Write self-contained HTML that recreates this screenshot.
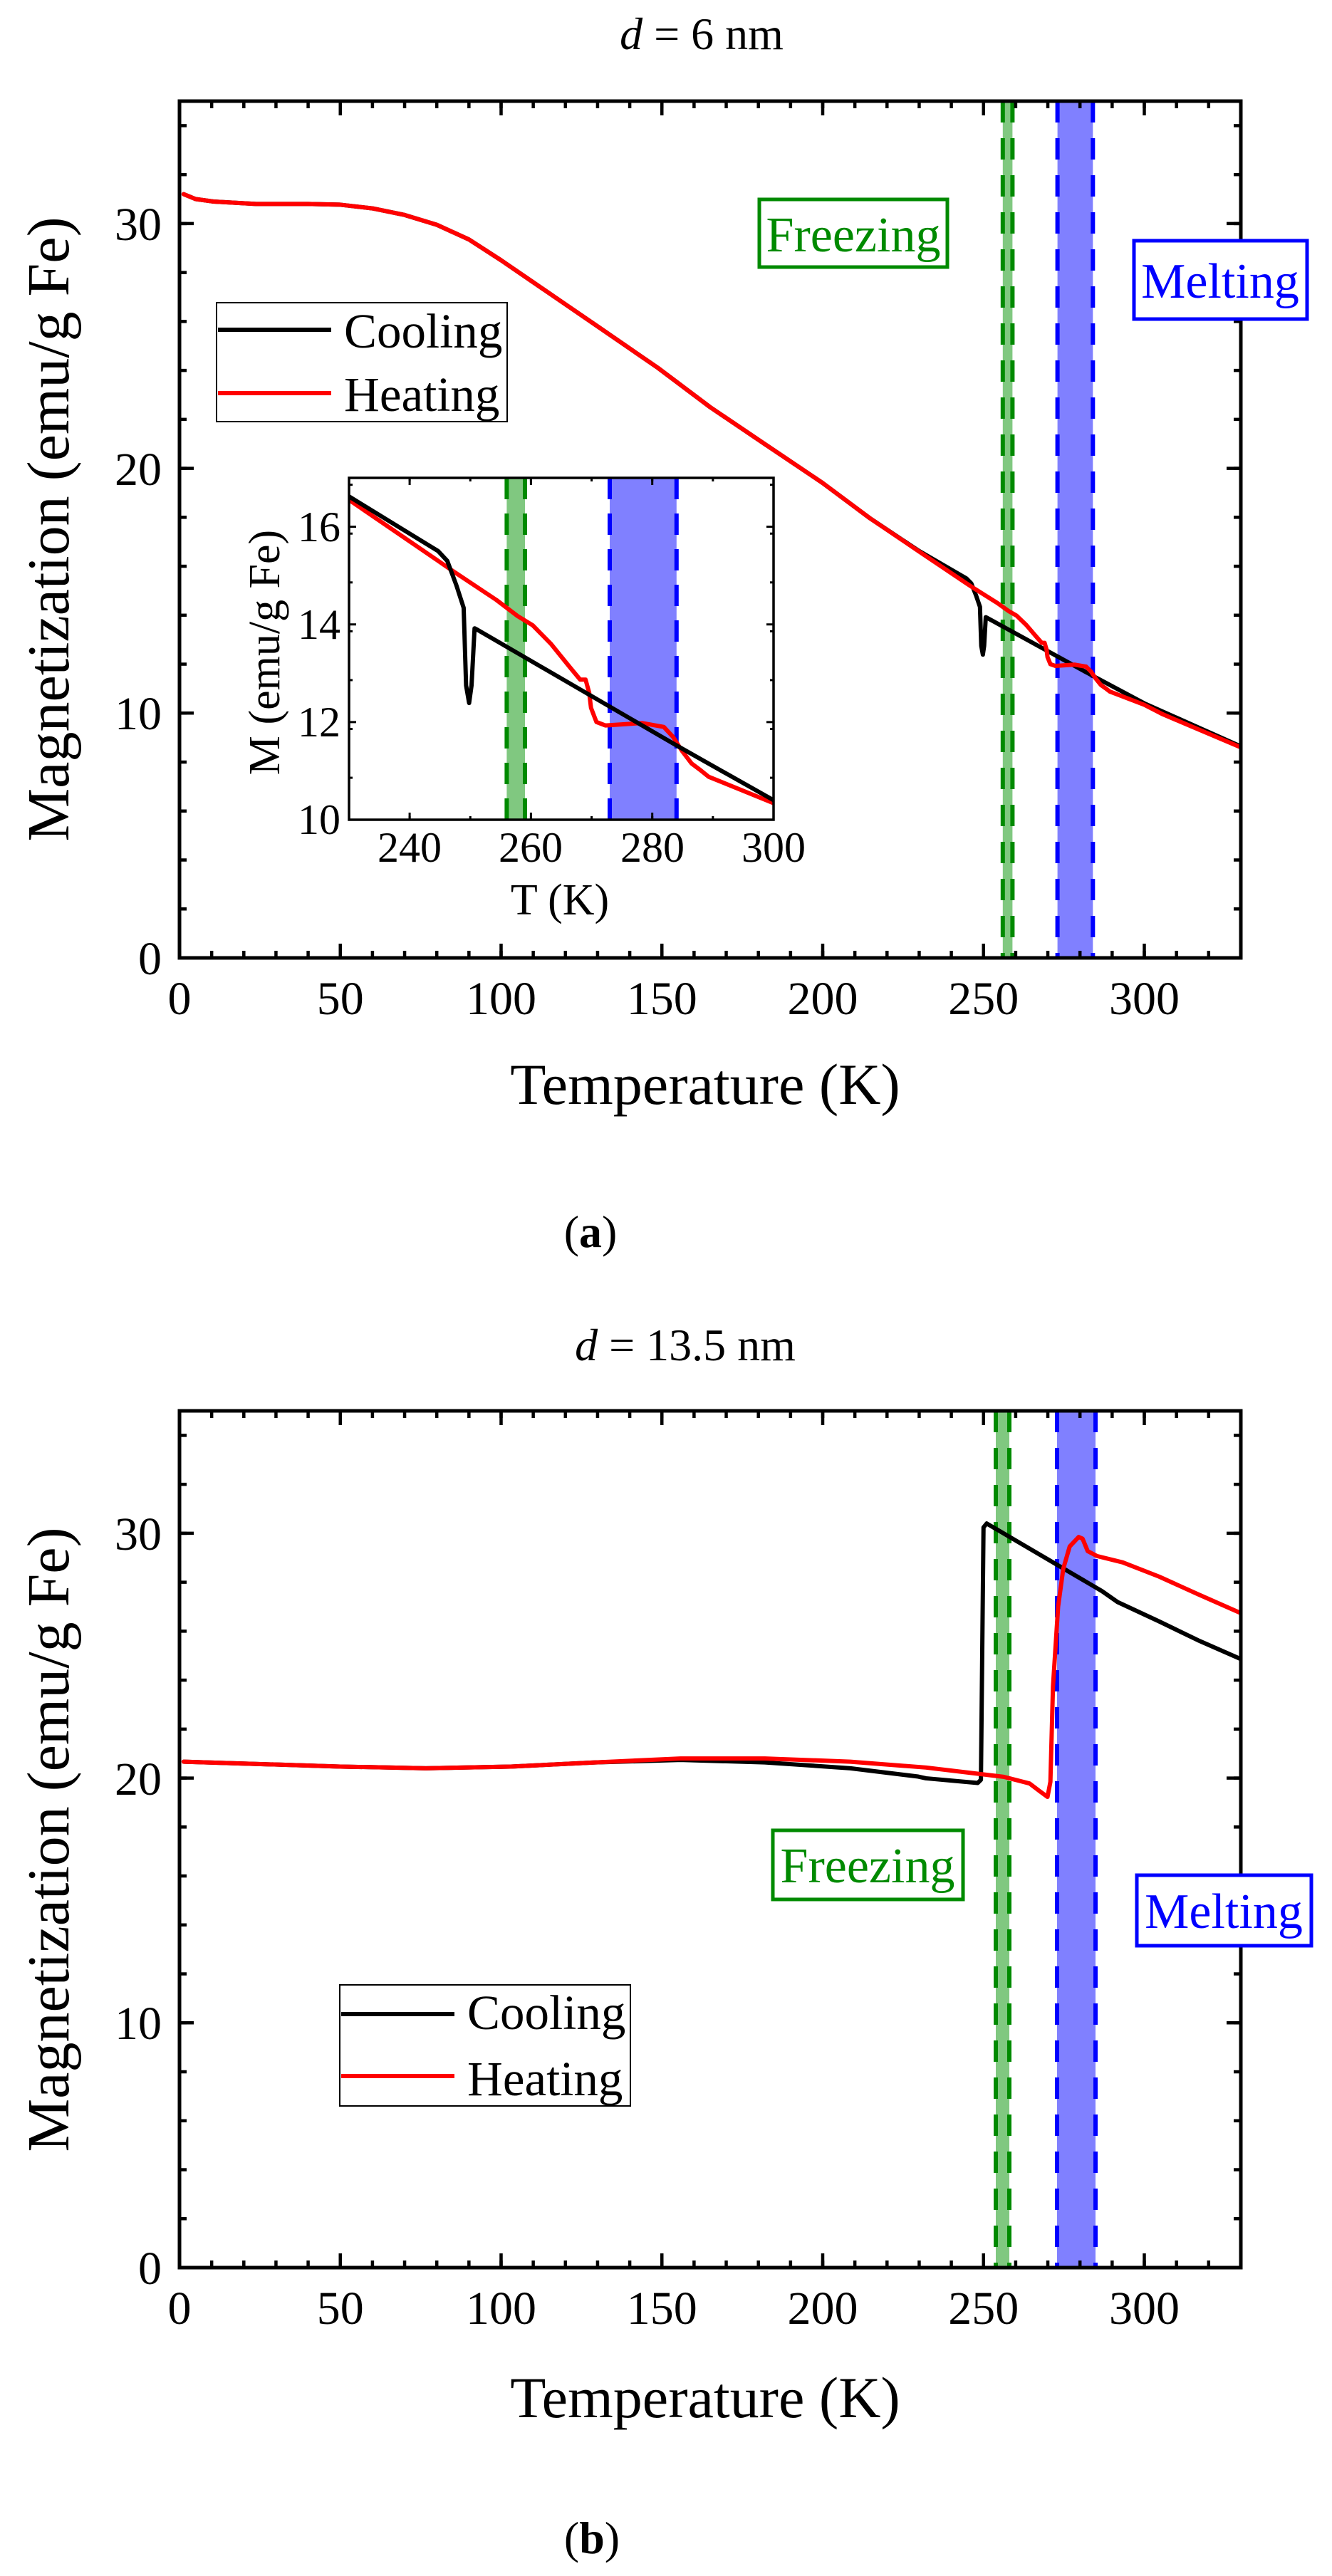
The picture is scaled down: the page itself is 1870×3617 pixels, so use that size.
<!DOCTYPE html>
<html><head><meta charset="utf-8"><style>
html,body{margin:0;padding:0;background:#fff;}
svg{display:block;}
text{font-family:"Liberation Serif",serif;fill:#000;}
</style></head><body>
<svg width="1870" height="3617" viewBox="0 0 1870 3617" xmlns="http://www.w3.org/2000/svg">
<defs>
<pattern id="mx" x="249.75" y="0" patternUnits="userSpaceOnUse" width="45.15" height="4000"><rect width="4.5" height="4000" fill="#000"/></pattern>
<pattern id="mya" x="0" y="36.69" patternUnits="userSpaceOnUse" width="4000" height="68.74"><rect width="4000" height="4.5" fill="#000"/></pattern>
<pattern id="myb" x="0" y="19.71" patternUnits="userSpaceOnUse" width="4000" height="68.74"><rect width="4000" height="4.5" fill="#000"/></pattern>
<pattern id="ix" x="488.5" y="0" patternUnits="userSpaceOnUse" width="85.14" height="4000"><rect width="3" height="4000" fill="#000"/></pattern>
<pattern id="iy" x="0" y="-6.54" patternUnits="userSpaceOnUse" width="4000" height="68.57"><rect width="4000" height="3" fill="#000"/></pattern>
<clipPath id="ca"><rect x="252" y="142" width="1490" height="1203"/></clipPath>
<clipPath id="cb"><rect x="252" y="1981" width="1490" height="1203"/></clipPath>
<clipPath id="ci"><rect x="490" y="671" width="596" height="480"/></clipPath>
</defs>

<!-- ================= PANEL A ================= -->
<text x="985" y="69" font-size="64" text-anchor="middle"><tspan font-style="italic">d</tspan> = 6 nm</text>
<g clip-path="url(#ca)">
<rect x="1407.8" y="142" width="13.6" height="1203" fill="#80c880"/>
<rect x="1484.6" y="142" width="49.7" height="1203" fill="#8080ff"/>
<g stroke-width="6" stroke-dasharray="30 22" fill="none">
<line x1="1407.8" y1="142" x2="1407.8" y2="1345" stroke="#008a00"/>
<line x1="1421.4" y1="142" x2="1421.4" y2="1345" stroke="#008a00"/>
<line x1="1484.6" y1="142" x2="1484.6" y2="1345" stroke="#0000ff"/>
<line x1="1534.3" y1="142" x2="1534.3" y2="1345" stroke="#0000ff"/>
</g>
<g transform="translate(252,1345) scale(4.515,-34.37)" fill="none" stroke-linejoin="round" stroke-linecap="round">
<polyline vector-effect="non-scaling-stroke" stroke="#000" stroke-width="6" points="1.3,31.2 5,31.0 10.6,30.9 23.8,30.8 40,30.8 50,30.77 60,30.62 70,30.35 80,29.95 90,29.35 100,28.5 110,27.6 120,26.7 130,25.8 148.8,24.1 165,22.5 181.9,21.0 200,19.4 214.8,17.95 230,16.62 244.7,15.5 246.2,15.3 247.7,14.8 248.9,14.34 249.3,12.75 249.8,12.39 250.2,12.75 250.7,13.92 251.3,13.88 284.3,11.5 300,10.4 330,8.64"/>
<polyline vector-effect="non-scaling-stroke" stroke="#ff0000" stroke-width="6" points="1.3,31.2 5,31.0 10.6,30.9 23.8,30.8 40,30.8 50,30.77 60,30.62 70,30.35 80,29.95 90,29.35 100,28.5 110,27.6 120,26.7 130,25.8 148.8,24.1 165,22.5 181.9,21.0 200,19.4 214.8,17.95 230,16.6 244.7,15.3 246.8,15.12 254.3,14.5 257.8,14.17 260.3,13.98 263.3,13.6 266.3,13.14 268.1,12.87 269,12.87 269.6,12.6 269.9,12.29 270.8,12.0 272.3,11.93 278.3,11.98 281.9,11.9 283.4,11.7 284.9,11.41 286.5,11.15 287.9,11.02 289.3,10.88 300,10.34 305.8,9.95 330,8.6"/>
</g>
</g>
<!-- ticks a -->
<rect x="254" y="1335" width="1486" height="10" fill="url(#mx)"/>
<rect x="254" y="142" width="1486" height="10" fill="url(#mx)"/>
<rect x="252" y="144" width="10" height="1199" fill="url(#mya)"/>
<rect x="1732" y="144" width="10" height="1199" fill="url(#mya)"/>
<g stroke="#000" stroke-width="4.5">
<path d="M477.75 1345v-20M703.5 1345v-20M929.25 1345v-20M1155 1345v-20M1380.75 1345v-20M1606.5 1345v-20M477.75 142v20M703.5 142v20M929.25 142v20M1155 142v20M1380.75 142v20M1606.5 142v20M252 1001.3h20M252 657.6h20M252 313.9h20M1742 1001.3h-20M1742 657.6h-20M1742 313.9h-20"/>
</g>
<rect x="252" y="142" width="1490" height="1203" fill="none" stroke="#000" stroke-width="5"/>
<g font-size="66" text-anchor="end">
<text x="227" y="1368">0</text><text x="227" y="1024">10</text><text x="227" y="681">20</text><text x="227" y="337">30</text>
</g>
<g font-size="66" text-anchor="middle">
<text x="252" y="1424">0</text><text x="477.75" y="1424">50</text><text x="703.5" y="1424">100</text><text x="929.25" y="1424">150</text><text x="1155" y="1424">200</text><text x="1380.75" y="1424">250</text><text x="1606.5" y="1424">300</text>
</g>
<text x="990" y="1550" font-size="82" text-anchor="middle">Temperature (K)</text>
<text transform="translate(96,743) rotate(-90)" font-size="84" text-anchor="middle">Magnetization (emu/g Fe)</text>
<!-- legend a -->
<rect x="304" y="425" width="408" height="167" fill="#fff" stroke="#000" stroke-width="2"/>
<line x1="306" y1="463" x2="465" y2="463" stroke="#000" stroke-width="6"/>
<line x1="306" y1="552" x2="465" y2="552" stroke="#ff0000" stroke-width="6"/>
<text x="483" y="488" font-size="69">Cooling</text>
<text x="483" y="577" font-size="69">Heating</text>
<!-- labels a -->
<rect x="1066" y="280" width="264" height="95" fill="#fff" stroke="#008a00" stroke-width="5"/>
<text x="1198" y="353" font-size="70" text-anchor="middle" style="fill:#008a00">Freezing</text>
<rect x="1592" y="338" width="243" height="110" fill="#fff" stroke="#0000ff" stroke-width="5"/>
<text x="1713" y="418" font-size="70" text-anchor="middle" style="fill:#0000ff">Melting</text>

<!-- inset -->
<rect x="490" y="671" width="596" height="480" fill="#fff"/>
<g clip-path="url(#ci)">
<rect x="711.4" y="671" width="25.6" height="480" fill="#80c880"/>
<rect x="856" y="671" width="93.8" height="480" fill="#8080ff"/>
<g stroke-width="6" stroke-dasharray="30 20" fill="none">
<line x1="711.4" y1="671" x2="711.4" y2="1151" stroke="#008a00"/>
<line x1="737" y1="671" x2="737" y2="1151" stroke="#008a00"/>
<line x1="856" y1="671" x2="856" y2="1151" stroke="#0000ff"/>
<line x1="949.8" y1="671" x2="949.8" y2="1151" stroke="#0000ff"/>
</g>
<g transform="translate(-1468.2,1836.7) scale(8.514,-68.57)" fill="none" stroke-linejoin="round" stroke-linecap="round">
<polyline vector-effect="non-scaling-stroke" stroke="#ff0000" stroke-width="6" points="214.8,17.95 230,16.55 244.7,15.3 246.8,15.12 254.3,14.5 257.8,14.17 260.3,13.98 263.3,13.6 266.3,13.14 268.1,12.87 269,12.87 269.6,12.6 269.9,12.29 270.8,12.0 272.3,11.93 278.3,11.98 281.9,11.9 283.4,11.7 284.9,11.41 286.5,11.15 287.9,11.02 289.3,10.88 300,10.34 305.8,9.95"/>
<polyline vector-effect="non-scaling-stroke" stroke="#000" stroke-width="6" points="214.8,17.95 230,16.62 244.7,15.5 246.2,15.3 247.7,14.8 248.9,14.34 249.3,12.75 249.8,12.39 250.2,12.75 250.7,13.92 251.3,13.88 284.3,11.5 300,10.4 310,9.7"/>
</g>
</g>
<rect x="491" y="1146" width="594" height="5" fill="url(#ix)"/>
<rect x="491" y="671" width="594" height="5" fill="url(#ix)"/>
<rect x="490" y="672" width="5" height="478" fill="url(#iy)"/>
<rect x="1081" y="672" width="5" height="478" fill="url(#iy)"/>
<g stroke="#000" stroke-width="3">
<path d="M575.1 1151v-10M745.4 1151v-10M915.7 1151v-10M575.1 671v10M745.4 671v10M915.7 671v10M490 1013.9h10M490 876.7h10M490 739.6h10M1086 1013.9h-10M1086 876.7h-10M1086 739.6h-10"/>
</g>
<rect x="490" y="671" width="596" height="480" fill="none" stroke="#000" stroke-width="3.5"/>
<g font-size="60" text-anchor="end">
<text x="478" y="1171">10</text><text x="478" y="1034">12</text><text x="478" y="897">14</text><text x="478" y="760">16</text>
</g>
<g font-size="60" text-anchor="middle">
<text x="575" y="1210">240</text><text x="745" y="1210">260</text><text x="916" y="1210">280</text><text x="1086" y="1210">300</text>
</g>
<text x="786" y="1284" font-size="62" text-anchor="middle">T (K)</text>
<text transform="translate(392,916) rotate(-90)" font-size="62" text-anchor="middle">M (emu/g Fe)</text>

<text x="829" y="1751" font-size="64" text-anchor="middle">(<tspan font-weight="bold">a</tspan>)</text>

<!-- ================= PANEL B ================= -->
<text x="962" y="1910" font-size="64" text-anchor="middle"><tspan font-style="italic">d</tspan> = 13.5 nm</text>
<g clip-path="url(#cb)">
<rect x="1398" y="1981" width="19" height="1203" fill="#80c880"/>
<rect x="1484" y="1981" width="54" height="1203" fill="#8080ff"/>
<g stroke-width="6" stroke-dasharray="30 22" fill="none">
<line x1="1398" y1="1981" x2="1398" y2="3184" stroke="#008a00"/>
<line x1="1417" y1="1981" x2="1417" y2="3184" stroke="#008a00"/>
<line x1="1484" y1="1981" x2="1484" y2="3184" stroke="#0000ff"/>
<line x1="1538" y1="1981" x2="1538" y2="3184" stroke="#0000ff"/>
</g>
<g transform="translate(252,3184) scale(4.515,-34.37)" fill="none" stroke-linejoin="round" stroke-linecap="round">
<polyline vector-effect="non-scaling-stroke" stroke="#000" stroke-width="6" points="1.3,20.67 50,20.47 76.6,20.4 103,20.47 129.4,20.64 155.8,20.74 182,20.64 208.6,20.4 229.7,20.06 232.1,19.99 248.2,19.8 249.2,19.93 250,30.24 251,30.4 272.4,28.75 286.8,27.64 291.7,27.19 304.6,26.4 316.7,25.63 330,24.86"/>
<polyline vector-effect="non-scaling-stroke" stroke="#ff0000" stroke-width="6" points="1.3,20.67 50,20.47 76.6,20.4 103,20.47 129.4,20.64 155.8,20.8 182,20.8 208.6,20.67 232.1,20.43 256.3,20.05 264.3,19.78 267.5,19.46 269.9,19.23 270.8,19.85 271.6,23.74 273.2,27 274.8,28.55 276.8,29.46 279.6,29.85 280.8,29.78 282.4,29.27 285.3,29.07 293.3,28.81 304.6,28.23 316.7,27.51 330,26.74"/>
</g>
</g>
<rect x="254" y="3174" width="1486" height="10" fill="url(#mx)"/>
<rect x="254" y="1981" width="1486" height="10" fill="url(#mx)"/>
<rect x="252" y="1983" width="10" height="1199" fill="url(#myb)"/>
<rect x="1732" y="1983" width="10" height="1199" fill="url(#myb)"/>
<g stroke="#000" stroke-width="4.5">
<path d="M477.75 3184v-20M703.5 3184v-20M929.25 3184v-20M1155 3184v-20M1380.75 3184v-20M1606.5 3184v-20M477.75 1981v20M703.5 1981v20M929.25 1981v20M1155 1981v20M1380.75 1981v20M1606.5 1981v20M252 2840.3h20M252 2496.6h20M252 2152.9h20M1742 2840.3h-20M1742 2496.6h-20M1742 2152.9h-20"/>
</g>
<rect x="252" y="1981" width="1490" height="1203" fill="none" stroke="#000" stroke-width="5"/>
<g font-size="66" text-anchor="end">
<text x="227" y="3207">0</text><text x="227" y="2863">10</text><text x="227" y="2520">20</text><text x="227" y="2176">30</text>
</g>
<g font-size="66" text-anchor="middle">
<text x="252" y="3263">0</text><text x="477.75" y="3263">50</text><text x="703.5" y="3263">100</text><text x="929.25" y="3263">150</text><text x="1155" y="3263">200</text><text x="1380.75" y="3263">250</text><text x="1606.5" y="3263">300</text>
</g>
<text x="990" y="3394" font-size="82" text-anchor="middle">Temperature (K)</text>
<text transform="translate(96,2583) rotate(-90)" font-size="84" text-anchor="middle">Magnetization (emu/g Fe)</text>
<rect x="477" y="2787" width="408" height="170" fill="#fff" stroke="#000" stroke-width="2"/>
<line x1="479" y1="2828" x2="638" y2="2828" stroke="#000" stroke-width="6"/>
<line x1="479" y1="2915" x2="638" y2="2915" stroke="#ff0000" stroke-width="6"/>
<text x="656" y="2849" font-size="69">Cooling</text>
<text x="656" y="2942" font-size="69">Heating</text>
<rect x="1085" y="2570" width="267" height="97" fill="#fff" stroke="#008a00" stroke-width="5"/>
<text x="1218" y="2643" font-size="70" text-anchor="middle" style="fill:#008a00">Freezing</text>
<rect x="1596" y="2633" width="245" height="99" fill="#fff" stroke="#0000ff" stroke-width="5"/>
<text x="1718" y="2707" font-size="70" text-anchor="middle" style="fill:#0000ff">Melting</text>
<text x="831" y="3585" font-size="64" text-anchor="middle">(<tspan font-weight="bold">b</tspan>)</text>
</svg>
</body></html>
